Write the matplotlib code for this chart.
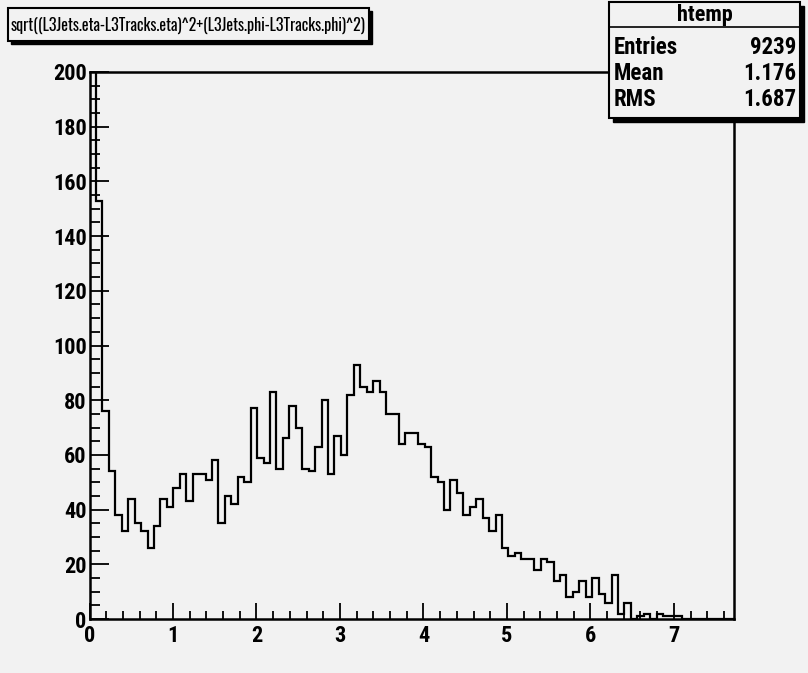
import numpy as np
import matplotlib
matplotlib.use("Agg")
import matplotlib.pyplot as plt
from matplotlib.patches import Rectangle
from matplotlib.ticker import MultipleLocator
from matplotlib import font_manager

# histogram contents (100 bins, first bin overflows the frame)
x_min = 0.0
x_max = 7.72
counts = [5500, 153, 76, 54, 38, 32, 44, 35, 32, 26,
          34, 44, 41, 48, 53, 43, 53, 53, 51, 58,
          35, 45, 42, 52, 50, 77, 59, 57, 83, 55,
          66, 78, 70, 55, 54, 63, 80, 53, 67, 60,
          82, 93, 85, 83, 87, 83, 75, 75, 64, 68,
          68, 64, 63, 52, 50, 40, 51, 46, 38, 41,
          44, 37, 32, 38, 26, 23, 24, 22, 22, 18,
          22, 21, 14, 16, 8, 10, 14, 8, 15, 9,
          6, 16, 2, 6, 0, 1, 2, 0, 2, 1,
          1, 1, 0, 0, 0, 0, 0, 0, 0, 0]
title = "sqrt((L3Jets.eta-L3Tracks.eta)^2+(L3Jets.phi-L3Tracks.phi)^2)"
stats_name = "htemp"
stats_labels = ["Entries", "Mean", "RMS"]
stats_values = ["9239", "1.176", "1.687"]
y_max = 200

W, H = 808, 673
BG = "#f2f2f2"

# ROOT's helvetica bold looks squeezed in the picture -> take a condensed face
installed = set(f.name for f in font_manager.fontManager.ttflist)
FONT = [f for f in ["Roboto Condensed", "Asap Condensed", "Barlow Semi Condensed"]
        if f in installed] + ["DejaVu Sans"]
# the title is squeezed even harder
TITLE_FONT = [f for f in ["Oswald", "Pathway Gothic One", "Roboto Condensed"]
              if f in installed] + ["DejaVu Sans"]
plt.rcParams["font.family"] = FONT
plt.rcParams["font.weight"] = "bold"
plt.rcParams["font.stretch"] = "condensed"


def fx(p):
    return p / W


def fy(p):
    return 1 - p / H


fig = plt.figure(figsize=(W / 100, H / 100), dpi=100, facecolor=BG)

# frame: x 89.5..734, y 72..619 (pixels)
ax = fig.add_axes([fx(89.5), fy(619), fx(734) - fx(89.5), fy(72) - fy(619)])
ax.set_facecolor(BG)

edges = np.linspace(x_min, x_max, len(counts) + 1)
ax.stairs(counts, edges, color="black", linewidth=1.6, baseline=None)
ax.set_xlim(x_min, x_max)
ax.set_ylim(0, y_max)

for s in ax.spines.values():
    s.set_linewidth(1.8)

ax.xaxis.set_major_locator(MultipleLocator(1))
ax.xaxis.set_minor_locator(MultipleLocator(0.2))
ax.yaxis.set_major_locator(MultipleLocator(20))
ax.yaxis.set_minor_locator(MultipleLocator(5))
ax.tick_params(axis="x", which="major", direction="in", length=11.5, width=1.3,
               labelsize=16, pad=4)
ax.tick_params(axis="x", which="minor", direction="in", length=6, width=1.3)
ax.tick_params(axis="y", which="major", direction="in", length=14, width=1.3,
               labelsize=16, pad=2)
ax.tick_params(axis="y", which="minor", direction="in", length=7.5, width=1.3)


def box(x0, y0, x1, y1, shadow=4):
    # ROOT style pave with a black drop shadow
    fig.patches.append(Rectangle((fx(x0 + shadow), fy(y1 + shadow)),
                                 fx(x1 - x0), fy(y0) - fy(y1),
                                 transform=fig.transFigure, facecolor="black",
                                 edgecolor="black", zorder=5))
    fig.patches.append(Rectangle((fx(x0), fy(y1)), fx(x1 - x0), fy(y0) - fy(y1),
                                 transform=fig.transFigure, facecolor=BG,
                                 edgecolor="black", linewidth=1.5, zorder=6))


# title pave
box(8, 8, 369, 41, shadow=3)
t = fig.text(fx(188.5), fy(25), title, ha="center", va="center", fontsize=17,
             family=TITLE_FONT, weight="normal", zorder=7)
# shrink the title until it fits the pave
r = fig.canvas.get_renderer()
w = t.get_window_extent(r).width
if w > 356:
    t.set_fontsize(17 * 356 / w)

# stats pave
box(609, 2, 800, 118, shadow=4)
fig.lines.append(plt.Line2D([fx(609), fx(800)], [fy(27), fy(27)],
                            transform=fig.transFigure, color="black",
                            linewidth=1.2, zorder=7))
fig.text(fx(705), fy(15), stats_name, ha="center", va="center", fontsize=16,
         zorder=7)
for i, (lab, val) in enumerate(zip(stats_labels, stats_values)):
    yy = fy(48 + i * 26)
    fig.text(fx(614), yy, lab, ha="left", va="center", fontsize=16.5, zorder=7)
    fig.text(fx(796), yy, val, ha="right", va="center", fontsize=16.5, zorder=7)

fig.savefig("out.png", dpi=100, facecolor=BG)
